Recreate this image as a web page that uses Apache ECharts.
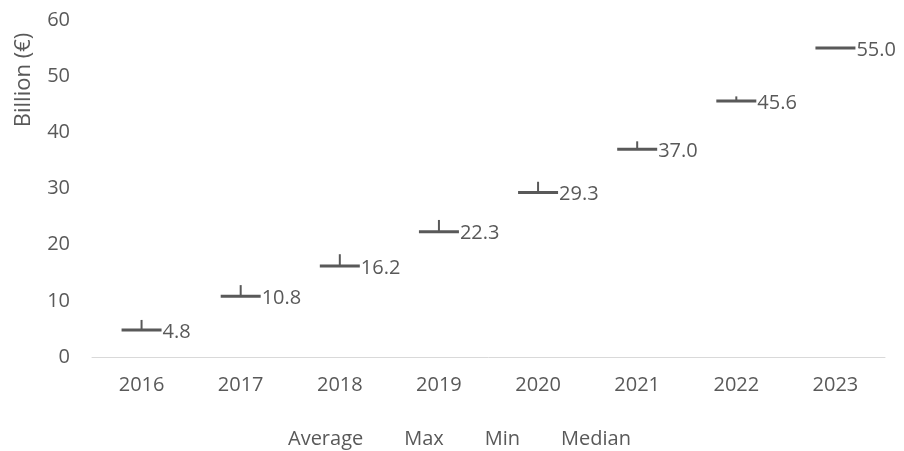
<!DOCTYPE html>
<html>
<head>
<meta charset="utf-8">
<script src="https://cdn.jsdelivr.net/npm/echarts@6/dist/echarts.min.js"></script>
<style>html,body{margin:0;padding:0;background:#fff}#c{width:904px;height:451px}</style>
</head>
<body>
<div id="c"></div>
<script>
const years = ['2016','2017','2018','2019','2020','2021','2022','2023'];
const average = [4.8, 10.8, 16.2, 22.3, 29.3, 37.0, 45.6, 55.0];
const maxVals = [6.6, 12.8, 18.3, 24.4, 31.2, 38.4, 46.4, 55.0];
const minVals = [4.8, 10.8, 16.2, 22.3, 29.3, 37.0, 45.6, 55.0];
const median  = [4.8, 10.8, 16.2, 22.3, 29.3, 37.0, 45.6, 55.0];
const yTicks = [0, 10, 20, 30, 40, 50, 60];

const FONT = 'Open Sans';
const TXT = '#595959';
const LINE = '#595959';

const chart = echarts.init(document.getElementById('c'));
const hl = years.map((y, i) => [i, average[i], maxVals[i], minVals[i], median[i]]);

chart.setOption({
  animation: false,
  textStyle: { fontFamily: FONT },
  grid: { left: 92, right: 19, top: 20, bottom: 94, containLabel: false },
  xAxis: {
    type: 'category', data: years,
    axisLine: { lineStyle: { color: '#d9d9d9', width: 1 } },
    axisTick: { show: false },
    axisLabel: { color: TXT, fontSize: 20, fontFamily: FONT, margin: 18 }
  },
  yAxis: {
    type: 'value', min: yTicks[0], max: yTicks[yTicks.length - 1], interval: 10,
    axisLine: { show: false }, axisTick: { show: false }, splitLine: { show: false },
    axisLabel: { color: TXT, fontSize: 20, fontFamily: FONT, margin: 22 }
  },
  legend: {
    left: 264, top: 424, itemWidth: 14, itemHeight: 10, itemGap: 22,
    textStyle: { color: TXT, fontSize: 20, fontFamily: FONT },
    data: ['Average', 'Max', 'Min', 'Median'].map(n => ({ name: n, icon: 'rect', itemStyle: { opacity: 0 } }))
  },
  graphic: [{
    type: 'text', x: 24, y: 80, rotation: Math.PI / 2,
    style: { text: 'Billion (€)', fill: TXT, font: '22px "Open Sans"', textAlign: 'center', textVerticalAlign: 'middle' }
  }],
  series: [
    {
      name: 'Average', type: 'custom', data: hl,
      encode: { x: 0, y: [1, 2, 3, 4] },
      renderItem: function (params, api) {
        const i = api.value(0);
        const pAvg = api.coord([i, api.value(1)]);
        const pMax = api.coord([i, api.value(2)]);
        const pMin = api.coord([i, api.value(3)]);
        const pMed = api.coord([i, api.value(4)]);
        const w = 40;
        let top = Math.min(pAvg[1], pMed[1]);
        let bot = Math.max(pAvg[1], pMed[1]);
        if (bot - top < 3) { const c = (top + bot) / 2; top = c - 1.5; bot = c + 1.5; }
        return {
          type: 'group',
          children: [
            { type: 'line', shape: { x1: pMax[0], y1: pMax[1], x2: pMin[0], y2: pMin[1] }, style: { stroke: LINE, lineWidth: 2 } },
            { type: 'rect', shape: { x: pAvg[0] - w / 2, y: top, width: w, height: bot - top }, style: { fill: LINE } }
          ]
        };
      },
      z: 2
    },
    { name: 'Max', type: 'line', data: maxVals, showSymbol: false, symbol: 'none', lineStyle: { opacity: 0 }, silent: true },
    { name: 'Min', type: 'line', data: minVals, showSymbol: false, symbol: 'none', lineStyle: { opacity: 0 }, silent: true },
    {
      name: 'Median', type: 'scatter', data: median, symbolSize: [40, 3], symbol: 'rect',
      itemStyle: { color: '#ffffff', opacity: 0.001 },
      label: { show: true, position: 'right', distance: 1, color: TXT, opacity: 1, fontSize: 20, fontFamily: FONT,
        offset: [0, 2], formatter: p => Number(p.value).toFixed(1) },
      z: 3
    }
  ]
});
</script>
</body>
</html>
